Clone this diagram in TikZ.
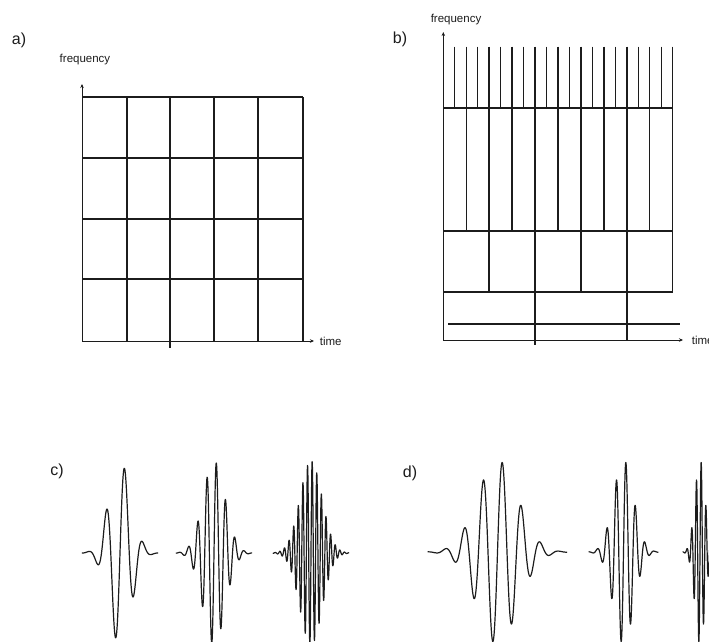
\documentclass[tikz,border=0pt]{standalone}
\usepackage{fontspec}
\setmainfont{Liberation Sans}
\usetikzlibrary{arrows.meta}
\definecolor{cink}{HTML}{1C1C1C}
\tikzset{
  every picture/.style={line width=1.1pt, color=cink},
  gridline/.style={draw=cink, line width=1.4pt},
  axis/.style={-{Stealth[length=4pt, width=3.5pt]}, draw=cink, line width=1pt},
  wave/.style={draw=cink, line width=1.2pt, line join=round},
  panel/.style={font=\fontsize{16}{18}\selectfont, text=cink},
  axlabel/.style={font=\fontsize{11.5}{13}\selectfont, text=cink},
}
% #1 centre x, #2 baseline y, #3 period, #4 envelope width
\newcommand{\wavepacket}[4]{%
  \draw[wave] plot[domain=-2.45:2.45, samples=500]
    ({#1+\x*#4}, {#2-92*exp(-\x*\x)*sin(360/#3*#4*\x)});
}

\begin{document}
\begin{tikzpicture}[x=1pt, y=-1pt]
  \useasboundingbox (0,0) rectangle (709,641);
  % a) fixed tiling
  \node[panel] (tagA) at (19,40) {a)};
  \node[axlabel] (freqA) at (85,60) {frequency};
  \coordinate (oA) at (82,341);
  \coordinate (topA) at (82,84);
  \coordinate (endA) at (314,341);
  \draw[axis] (oA) -- (topA);
  \draw[axis] (oA) -- (endA);
  \node[axlabel, anchor=west] (timeA) at (316,341) {time};
  \foreach \y in {97,158,219,279} \draw[gridline] (82,\y) -- (303,\y);
  \foreach \x in {127,170,214,258,303} \draw[gridline] (\x,97) -- (\x,341);
  \draw[gridline] (170,341) -- (170,348);
  % b) dyadic tiling
  \node[panel] (tagB) at (400,39) {b)};
  \node[axlabel] (freqB) at (456,20) {frequency};
  \coordinate (oB) at (443.3,340);
  \coordinate (topB) at (443.3,32);
  \coordinate (endB) at (683,340);
  \draw[axis] (oB) -- (topB);
  \draw[axis] (oB) -- (endB);
  \node[axlabel, anchor=west] (timeB) at (688,340) {time};
  \foreach \y in {108,231,292} \draw[gridline] (443.3,\y) -- (672.7,\y);
  \foreach \i in {1,...,20} \draw[gridline] (443.3+\i*11.47,46.7) -- (443.3+\i*11.47,108);
  \foreach \i in {2,4,...,20} \draw[gridline] (443.3+\i*11.47,108) -- (443.3+\i*11.47,231);
  \foreach \i in {4,8,...,20} \draw[gridline] (443.3+\i*11.47,231) -- (443.3+\i*11.47,292);
  \draw[gridline] (535.1,292) -- (535.1,345);
  \draw[gridline] (626.8,292) -- (626.8,340);
  \draw[line width=2.6pt] (448,324) -- (680,324);
  % c) short-time Fourier atoms
  \node[panel] (tagC) at (57,471) {c)};
  \wavepacket{120}{553}{18.5}{15.6}
  \wavepacket{214}{553}{9.25}{15.6}
  \wavepacket{311}{553}{4.62}{15.6}
  % d) wavelet atoms
  \node[panel] (tagD) at (410,473) {d)};
  \wavepacket{497.5}{552}{19}{28.5}
  \wavepacket{623.5}{552}{9.5}{14.25}
  \wavepacket{700}{552}{4.75}{7.12}
\end{tikzpicture}
\end{document}
